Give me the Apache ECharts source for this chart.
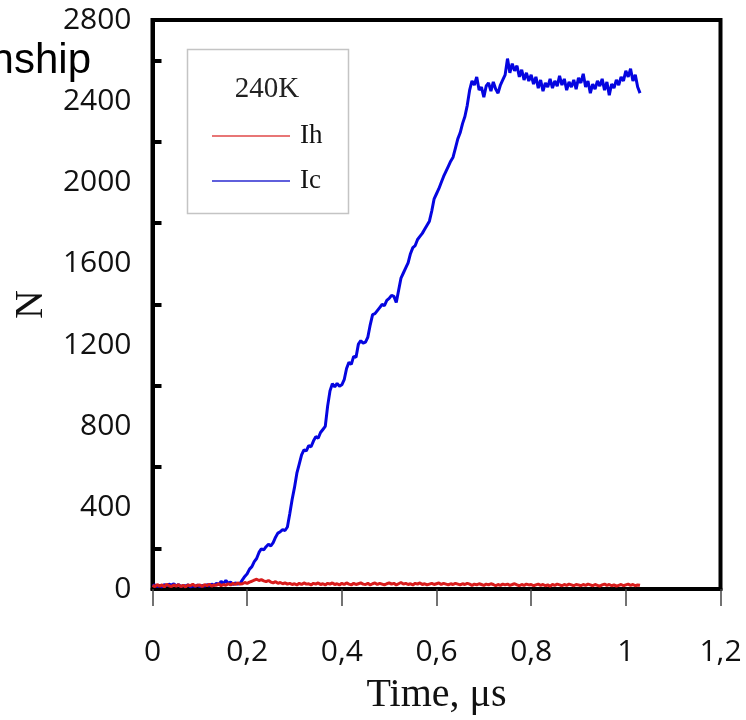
<!DOCTYPE html>
<html>
<head>
<meta charset="utf-8">
<script src="https://cdn.jsdelivr.net/npm/echarts@6/dist/echarts.min.js"></script>
<style>
  html, body { margin: 0; padding: 0; background: #fff; }
  #chart { width: 746px; height: 720px; }
</style>
</head>
<body>
<div id="chart"></div>
<script>
// Sampling instants, µs (0 … 1.03, every 0.005)
const time = [
  0.000,0.005,0.010,0.015,0.020,0.025,0.030,0.035,0.040,0.045,
  0.050,0.055,0.060,0.065,0.070,0.075,0.080,0.085,0.090,0.095,
  0.100,0.105,0.110,0.115,0.120,0.125,0.130,0.135,0.140,0.145,
  0.150,0.155,0.160,0.165,0.170,0.175,0.180,0.185,0.190,0.195,
  0.200,0.205,0.210,0.215,0.220,0.225,0.230,0.235,0.240,0.245,
  0.250,0.255,0.260,0.265,0.270,0.275,0.280,0.285,0.290,0.295,
  0.300,0.305,0.310,0.315,0.320,0.325,0.330,0.335,0.340,0.345,
  0.350,0.355,0.360,0.365,0.370,0.375,0.380,0.385,0.390,0.395,
  0.400,0.405,0.410,0.415,0.420,0.425,0.430,0.435,0.440,0.445,
  0.450,0.455,0.460,0.465,0.470,0.475,0.480,0.485,0.490,0.495,
  0.500,0.505,0.510,0.515,0.520,0.525,0.530,0.535,0.540,0.545,
  0.550,0.555,0.560,0.565,0.570,0.575,0.580,0.585,0.590,0.595,
  0.600,0.605,0.610,0.615,0.620,0.625,0.630,0.635,0.640,0.645,
  0.650,0.655,0.660,0.665,0.670,0.675,0.680,0.685,0.690,0.695,
  0.700,0.705,0.710,0.715,0.720,0.725,0.730,0.735,0.740,0.745,
  0.750,0.755,0.760,0.765,0.770,0.775,0.780,0.785,0.790,0.795,
  0.800,0.805,0.810,0.815,0.820,0.825,0.830,0.835,0.840,0.845,
  0.850,0.855,0.860,0.865,0.870,0.875,0.880,0.885,0.890,0.895,
  0.900,0.905,0.910,0.915,0.920,0.925,0.930,0.935,0.940,0.945,
  0.950,0.955,0.960,0.965,0.970,0.975,0.980,0.985,0.990,0.995,
  1.000,1.005,1.010,1.015,1.020,1.025,1.030
];

// Ic counts at each instant
const icValues = [
  14,20,12,18,10,22,16,24,18,26,
  15,22,12,18,14,20,11,16,13,19,
  12,17,14,21,16,24,18,28,22,38,
  26,42,28,34,22,30,24,28,45,62,
  75,98,110,135,150,180,198,192,208,220,
  212,228,255,275,282,292,288,305,370,440,
  500,570,615,660,685,680,705,700,728,750,
  742,770,785,800,900,975,1010,995,1012,998,
  1005,1030,1085,1115,1105,1145,1140,1205,1222,1210,
  1215,1240,1300,1350,1355,1370,1385,1400,1395,1420,
  1430,1445,1440,1410,1470,1530,1555,1580,1605,1650,
  1680,1690,1720,1735,1750,1770,1790,1810,1860,1920,
  1945,1970,2000,2030,2055,2080,2105,2125,2170,2215,
  2245,2290,2325,2380,2455,2500,2480,2520,2455,2470,
  2420,2475,2490,2450,2495,2460,2440,2480,2505,2530,
  2610,2540,2585,2550,2575,2520,2555,2505,2540,2500,
  2530,2485,2520,2465,2505,2450,2490,2470,2510,2465,
  2500,2475,2525,2480,2510,2455,2495,2470,2505,2460,
  2515,2490,2535,2470,2500,2440,2485,2460,2500,2475,
  2510,2455,2495,2430,2485,2465,2505,2480,2520,2500,
  2550,2520,2560,2500,2530,2470,2440
];

// Ih counts at each instant
const ihValues = [
  18,12,22,14,20,10,24,16,12,20,
  14,22,12,18,10,20,16,24,14,18,
  20,12,22,16,24,14,20,18,26,16,
  22,18,26,20,28,22,30,24,26,32,
  28,34,38,44,48,42,46,40,36,42,
  34,30,36,28,32,26,30,24,28,22,
  26,20,28,22,30,24,26,20,28,24,
  30,22,26,20,28,24,30,22,26,20,
  28,22,30,24,20,28,22,26,30,24,
  22,28,20,26,30,22,28,24,20,26,
  30,24,28,20,26,32,24,28,22,26,
  20,28,24,30,22,26,20,24,28,22,
  26,30,22,28,24,20,26,22,28,24,
  20,26,22,28,24,18,24,20,26,22,
  18,24,20,26,22,16,22,18,24,20,
  24,18,22,26,20,16,22,18,24,20,
  22,16,20,24,18,22,16,20,14,22,
  18,24,20,16,22,18,24,20,16,22,
  20,16,22,18,24,20,16,22,18,14,
  20,24,18,22,16,20,14,18,22,16,
  20,24,18,22,16,20,18
];

// Axis marks
const yLabelValues = [0, 400, 800, 1200, 1600, 2000, 2400, 2800];
const yTickValues = [200, 600, 1000, 1400, 1800, 2200, 2600];
const seriesNames = ['Ih', 'Ic'];
const legendTitle = '240K';

const tickFont = "'Open Sans', 'DejaVu Sans', sans-serif";
const serifFont = "'Liberation Serif', 'DejaVu Serif', serif";

const chart = echarts.init(document.getElementById('chart'), null, { renderer: 'canvas' });

chart.setOption({
  animation: false,
  backgroundColor: '#fff',
  grid: {
    left: 152.5, right: 25.5, top: 20, bottom: 130,
    show: true, borderColor: '#000', borderWidth: 4, backgroundColor: 'transparent'
  },
  xAxis: {
    type: 'value', min: 0, max: 1.2, interval: 0.2,
    name: 'Time, μs', nameLocation: 'middle', nameGap: 86,
    nameTextStyle: { fontFamily: serifFont, fontSize: 40, color: '#111' },
    axisLine: { show: true, onZero: false, lineStyle: { color: '#000', width: 4 } },
    axisTick: { show: true, inside: false, length: 17, lineStyle: { color: '#444', width: 1.5 } },
    axisLabel: {
      margin: 48, fontFamily: tickFont, fontSize: 30, color: '#111',
      formatter: v => String(Number(v.toFixed(1))).replace('.', ',')
    },
    splitLine: { show: false }
  },
  yAxis: {
    type: 'value', min: 0, max: 2800, interval: 400,
    name: 'N', nameLocation: 'middle', nameGap: 100, nameRotate: 90,
    nameTextStyle: { fontFamily: serifFont, fontSize: 40, color: '#111' },
    axisLine: { show: true, lineStyle: { color: '#000', width: 4 } },
    axisTick: {
      show: true, inside: true, length: 9, customValues: yTickValues,
      lineStyle: { color: '#000', width: 4 }
    },
    axisLabel: {
      margin: 21, fontFamily: tickFont, fontSize: 30, color: '#111',
      customValues: yLabelValues,
      formatter: v => String(Math.round(v))
    },
    splitLine: { show: false }
  },
  legend: {
    data: seriesNames,
    orient: 'vertical',
    left: 207, top: 116,
    icon: 'rect', itemWidth: 78, itemHeight: 1.5, itemGap: 15,
    textStyle: { fontFamily: serifFont, fontSize: 27, color: '#111', lineHeight: 30, padding: [0, 0, 0, 5] },
    selectedMode: false
  },
  graphic: [
    {
      type: 'text', x: 91, y: 61, z: 10,
      style: {
        text: 'relationship', align: 'right', verticalAlign: 'middle',
        font: "42px 'Liberation Sans', Arial, sans-serif", fill: '#000'
      }
    },
    {
      type: 'rect', z: 5,
      shape: { x: 187.5, y: 49.5, width: 161, height: 164 },
      style: { fill: 'transparent', stroke: '#c4c4c4', lineWidth: 1.5 }
    },
    {
      type: 'text', x: 267, y: 89, z: 6,
      style: {
        text: legendTitle, align: 'center', verticalAlign: 'middle',
        font: "29px 'Liberation Serif', serif", fill: '#222'
      }
    }
  ],
  series: [
    {
      name: 'Ic', type: 'line', symbol: 'none', showSymbol: false,
      data: time.map((t, i) => [t, icValues[i]]),
      lineStyle: { color: '#0505e0', width: 3 },
      itemStyle: { color: '#2a2ad0' },
      z: 2
    },
    {
      name: 'Ih', type: 'line', symbol: 'none', showSymbol: false,
      data: time.map((t, i) => [t, ihValues[i]]),
      lineStyle: { color: '#d81c1c', width: 3 },
      itemStyle: { color: '#e04848' },
      z: 3
    }
  ]
});
</script>
</body>
</html>
